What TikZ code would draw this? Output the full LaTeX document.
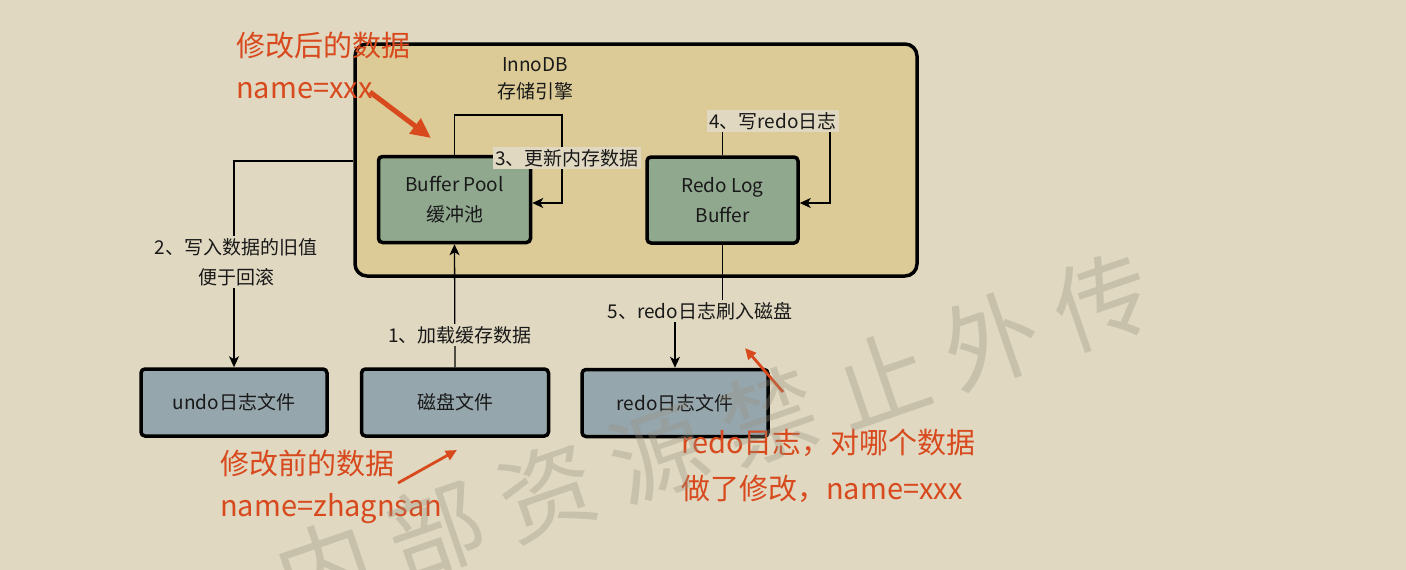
\documentclass[tikz,border=0pt]{standalone}
\usepackage{fontspec}
\setmainfont{Noto Sans CJK SC}
\usetikzlibrary{arrows.meta}
\definecolor{bgc}{RGB}{224,216,192}
\definecolor{innoc}{RGB}{220,203,151}
\definecolor{greenc}{RGB}{143,168,142}
\definecolor{bluec}{RGB}{150,166,173}
\definecolor{orangec}{RGB}{216,73,30}
\definecolor{wmc}{RGB}{150,144,128}
\definecolor{inkc}{RGB}{25,25,25}
\begin{document}
\begin{tikzpicture}[x=1pt,y=-1pt,
  cbox/.style={draw=black, line width=3.5pt, rounded corners=4pt, inner sep=0pt,
    text=inkc, font=\fontsize{19pt}{30pt}\selectfont, align=center},
  conn/.style={draw=black, line width=1.3pt, -{Stealth[length=11pt,width=10pt,inset=3pt]}},
  lbl/.style={fill=bgc, inner sep=2pt, text=inkc, font=\fontsize{19pt}{30pt}\selectfont, align=center},
  note/.style={text=orangec, anchor=west, inner sep=0pt, font=\fontsize{29pt}{46pt}\selectfont, align=left},
  oarrow/.style={draw=orangec, line width=#1, -{Triangle[length=4*#1,width=3.6*#1]}},
  wm/.style={text=wmc, text opacity=0.33, rotate=19, font=\fontsize{96pt}{96pt}\selectfont}
]
\fill[bgc] (0,0) rectangle (1406,570);
\useasboundingbox (0,0) rectangle (1406,570);
\clip (0,0) rectangle (1406,570);

% InnoDB container
\node[draw=black, fill=innoc, line width=3.5pt, rounded corners=12pt, inner sep=0pt,
      minimum width=562pt, minimum height=232pt] (inno) at (636,160) {};
\node[text=inkc, font=\fontsize{19pt}{27pt}\selectfont, align=center] (innolbl) at (535,79) {InnoDB\\存储引擎};

% boxes
\node[cbox, fill=greenc, minimum width=152pt, minimum height=86pt] (bp) at (454.5,199.5) {Buffer Pool\\缓冲池};
\node[cbox, fill=greenc, minimum width=151pt, minimum height=86pt] (rb) at (722.5,200) {Redo Log\\Buffer};
\node[cbox, fill=bluec, minimum width=186pt, minimum height=67pt] (undo) at (234,402.5) {undo日志文件};
\node[cbox, fill=bluec, minimum width=187pt, minimum height=67pt] (disk) at (455,402.5) {磁盘文件};
\node[cbox, fill=bluec, minimum width=186pt, minimum height=67pt] (rf) at (675,403) {redo日志文件};

% 1
\draw[conn] (disk.north) -- (bp.south);
\node[lbl] (l1) at (460,335) {1、加载缓存数据};
% 2
\draw[conn] (inno.west |- 0,161) -- (234,161) -- (undo.north);
\node[lbl] (l2) at (236,262) {2、写入数据的旧值\\便于回滚};
% 3
\draw[conn] (bp.north) -- (bp.north |- 0,115) -- (562,115) -- (562,203) -- (bp.east |- 0,203);
\node[lbl] (l3) at (567,158) {3、更新内存数据};
% 4
\draw[conn] (rb.north) -- (rb.north |- 0,121) -- (830,121) -- (830,203) -- (rb.east |- 0,203);
\node[lbl] (l4) at (773,121) {4、写redo日志};
% 5
\draw[conn] (rb.south) -- (rb.south |- 0,311) -- (675,311) -- (rf.north);
\node[lbl] (l5) at (700,311) {5、redo日志刷入磁盘};

% orange notes
\node[note] (n1) at (236,45) {修改后的数据};
\node[note] (n1b) at (236,91) {name=xxx};
\node[note] (n2) at (220,463) {修改前的数据};
\node[note] (n2b) at (220,509) {name=zhagnsan};
\node[note] (n3) at (681,443) {redo日志，对哪个数据};
\node[note] (n3b) at (681,489) {做了修改，name=xxx};

\coordinate (a1s) at (370,92);  \coordinate (a1e) at (431,138);
\coordinate (a2s) at (398,483); \coordinate (a2e) at (457,450);
\coordinate (a3s) at (783,392); \coordinate (a3e) at (745,348);
\draw[oarrow=5pt] (a1s) -- (a1e);
\draw[oarrow=2.8pt] (a2s) -- (a2e);
\draw[oarrow=2.8pt] (a3s) -- (a3e);

% watermark
\node[wm] (w1) at (325,568) {内};
\node[wm] (w2) at (436,530) {部};
\node[wm] (w3) at (547,492) {资};
\node[wm] (w4) at (658,454) {源};
\node[wm] (w5) at (769,416) {禁};
\node[wm] (w6) at (880,378) {止};
\node[wm] (w7) at (991,340) {外};
\node[wm] (w8) at (1102,302) {传};
\end{tikzpicture}
\end{document}
